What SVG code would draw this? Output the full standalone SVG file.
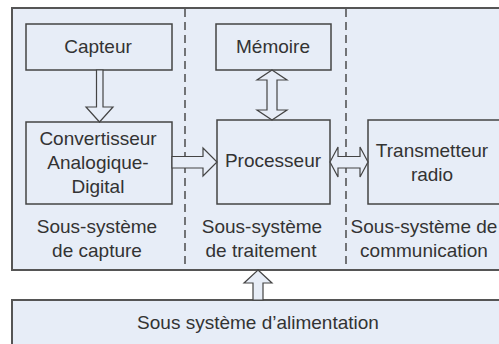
<svg xmlns="http://www.w3.org/2000/svg" width="499" height="344" viewBox="0 0 499 344">
  <style>
    .frame { fill: #E7EDF7; stroke: #555; stroke-width: 2; }
    .box { fill: #E7EDF7; stroke: #444; stroke-width: 1.5; }
    .arrow { fill: #E7EDF7; stroke: #444; stroke-width: 1.2; stroke-linejoin: miter; }
    .dash { stroke: #333; stroke-width: 1.3; stroke-dasharray: 8 5; fill: none; }
    text { font-family: "Liberation Sans", Arial, sans-serif; font-size: 19px; fill: #333; text-anchor: middle; }
  </style>
  <rect width="499" height="344" fill="#ffffff"/>
  <g id="systeme">
    <rect class="frame" x="12" y="8" width="495" height="262"/>
  </g>
  <g id="alimentation">
    <rect class="frame" x="12" y="300" width="495" height="60"/>
    <text x="258" y="329">Sous système d’alimentation</text>
  </g>
  <g id="separateurs">
    <line class="dash" x1="185" y1="9" x2="185" y2="269"/>
    <line class="dash" x1="346" y1="9" x2="346" y2="269"/>
  </g>
  <g id="capteur">
    <rect class="box" x="26" y="24" width="146" height="46"/>
    <text x="98" y="53">Capteur</text>
  </g>
  <g id="convertisseur">
    <rect class="box" x="26" y="122" width="146" height="82"/>
    <text x="98" y="145">Convertisseur</text>
    <text x="98" y="169">Analogique-</text>
    <text x="98" y="193">Digital</text>
  </g>
  <g id="memoire">
    <rect class="box" x="216" y="24" width="115" height="46"/>
    <text x="273" y="53">Mémoire</text>
  </g>
  <g id="processeur">
    <rect class="box" x="217" y="120" width="113" height="84"/>
    <text x="273" y="167">Processeur</text>
  </g>
  <g id="transmetteur">
    <rect class="box" x="368" y="120" width="140" height="84"/>
    <text x="432" y="157">Transmetteur</text>
    <text x="432" y="181">radio</text>
  </g>
  <g id="labels">
    <text x="97" y="233">Sous-système</text>
    <text x="97" y="257">de capture</text>
    <text x="262" y="233">Sous-système</text>
    <text x="261" y="257">de traitement</text>
    <text x="424" y="233">Sous-système de</text>
    <text x="424" y="257">communication</text>
  </g>
  <g id="connecteurs">
    <path class="arrow" d="M96.5,70 V107 H86 L99.5,122 L113,107 H103 V70 Z"/>
    <path class="arrow" d="M172,156.5 H203 V148 L217,162 L203,176 V168 H172 Z"/>
    <path class="arrow" d="M272,70 L287,80 H277 V110 H287 L272,120 L257,110 H267 V80 H257 Z"/>
    <path class="arrow" d="M330,162 L338,147 V156.5 H360 V147 L368,162 L360,177 V168 H338 V177 Z"/>
    <path class="arrow" d="M258,270 L272,283 H263 V300 H253 V283 H244 Z"/>
  </g>
</svg>
